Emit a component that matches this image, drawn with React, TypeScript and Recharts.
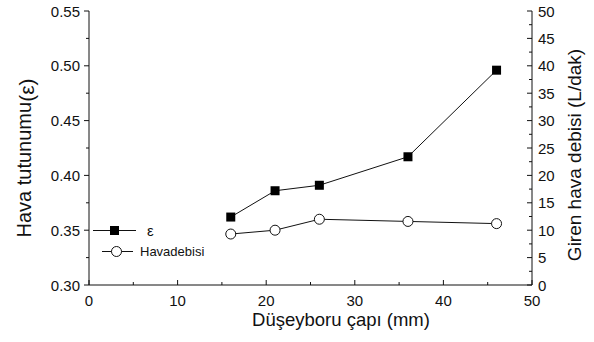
import React from 'react';
import { LineChart, Line, XAxis, YAxis, Legend, Label } from 'recharts';

const diameters = [16, 21, 26, 36, 46];
const holdup = [0.362, 0.386, 0.391, 0.417, 0.496];
const airFlow = [9.3, 10.0, 12.0, 11.6, 11.2];

const xTicks = [0, 5, 10, 15, 20, 25, 30, 35, 40, 45, 50];
const leftTicks = [0.3, 0.325, 0.35, 0.375, 0.4, 0.425, 0.45, 0.475, 0.5, 0.525, 0.55];
const rightTicks = [0, 2.5, 5, 7.5, 10, 12.5, 15, 17.5, 20, 22.5, 25, 27.5, 30, 32.5, 35, 37.5, 40, 42.5, 45, 47.5, 50];

const data = diameters.map((d, i) => ({ d, eps: holdup[i], flow: airFlow[i] }));

const FONT = '"Liberation Sans", Arial, sans-serif';
const INK = '#111';

const isMult = (v: number, step: number) => Math.abs(v / step - Math.round(v / step)) < 1e-6;

const BottomTick = (p: any) => {
  const v = p.payload.value;
  const major = isMult(v, 10);
  return (
    <g>
      <line x1={p.x} x2={p.x} y1={p.y} y2={p.y - (major ? 5 : 3)} stroke={INK} />
      {major && (
        <text x={p.x} y={p.y + 20.5} textAnchor="middle" fontSize={15} fontFamily={FONT} fill={INK}>{v}</text>
      )}
    </g>
  );
};

const TopTick = (p: any) => {
  const major = isMult(p.payload.value, 10);
  return <line x1={p.x} x2={p.x} y1={p.y} y2={p.y + (major ? 5 : 3)} stroke={INK} />;
};

const LeftTick = (p: any) => {
  const v = p.payload.value;
  const major = isMult(v, 0.05);
  return (
    <g>
      <line x1={p.x} x2={p.x - (major ? 5 : 3)} y1={p.y} y2={p.y} stroke={INK} />
      {major && (
        <text x={p.x - 9} y={p.y + 5.5} textAnchor="end" fontSize={15} fontFamily={FONT} fill={INK}>{v.toFixed(2)}</text>
      )}
    </g>
  );
};

const RightTick = (p: any) => {
  const v = p.payload.value;
  const major = isMult(v, 5);
  return (
    <g>
      <line x1={p.x} x2={p.x - (major ? 5 : 3)} y1={p.y} y2={p.y} stroke={INK} />
      {major && (
        <text x={p.x + 6} y={p.y + 5.5} textAnchor="start" fontSize={15} fontFamily={FONT} fill={INK}>{v}</text>
      )}
    </g>
  );
};

const SquareDot = (p: any) => (
  <rect key={`sq-${p.index}`} x={p.cx - 4.5} y={p.cy - 4.5} width={9} height={9} fill="#000" />
);

// legend sits inside the plot, left of the data
const LegendBox = () => (
  <svg width={130} height={50} style={{ display: 'block', overflow: 'visible' }}>
    <path d="M3 16.5 H46" stroke={INK} strokeWidth={1} fill="none" />
    <rect x={20} y={12} width={9} height={9} fill="#000" />
    <text x={57} y={21.5} fontSize={15} fontFamily={FONT} fill={INK}>ε</text>
    <path d="M12 37.5 H43" stroke={INK} strokeWidth={1} fill="none" />
    <circle cx={26.5} cy={37.5} r={5} fill="#fff" stroke={INK} />
    <text x={50} y={42} fontSize={13} fontFamily={FONT} fill={INK}>Havadebisi</text>
  </svg>
);

export default function App() {
  return (
    <div style={{ position: 'absolute', left: 0, top: 0, background: '#fff' }}>
      <LineChart width={594} height={342} data={data} margin={{ top: 11, right: 0, bottom: 0, left: 0 }}>
        <XAxis
          xAxisId="b"
          dataKey="d"
          type="number"
          domain={[0, 50]}
          ticks={xTicks}
          interval={0}
          height={57}
          tickSize={0}
          tickMargin={0}
          tickLine={false}
          axisLine={{ stroke: INK }}
          tick={BottomTick}
        >
          <Label
            content={() => (
              <text x={341} y={326} textAnchor="middle" fontSize={18.5} fontFamily={FONT} fill={INK}>
                Düşeyboru çapı (mm)
              </text>
            )}
          />
        </XAxis>
        <XAxis
          xAxisId="t"
          orientation="top"
          dataKey="d"
          type="number"
          domain={[0, 50]}
          ticks={xTicks}
          interval={0}
          height={0}
          tickSize={0}
          tickMargin={0}
          tickLine={false}
          axisLine={{ stroke: INK }}
          tick={TopTick}
        />
        <YAxis
          yAxisId="l"
          type="number"
          domain={[0.3, 0.55]}
          ticks={leftTicks}
          interval={0}
          width={89}
          tickSize={0}
          tickMargin={0}
          tickLine={false}
          axisLine={{ stroke: INK }}
          tick={LeftTick}
        >
          <Label
            content={() => (
              <text x={31} y={158} transform="rotate(-90 31 158)" textAnchor="middle" fontSize={20} fontFamily={FONT} fill={INK}>
                Hava tutunumu<tspan dy={3} fontSize={21}>(ε)</tspan>
              </text>
            )}
          />
        </YAxis>
        <YAxis
          yAxisId="r"
          orientation="right"
          type="number"
          domain={[0, 50]}
          ticks={rightTicks}
          interval={0}
          width={62}
          tickSize={0}
          tickMargin={0}
          tickLine={false}
          axisLine={{ stroke: INK }}
          tick={RightTick}
        >
          <Label
            content={() => (
              <text x={581} y={155} transform="rotate(-90 581 155)" textAnchor="middle" fontSize={19} fontFamily={FONT} fill={INK}>
                Giren hava debisi (L/dak)
              </text>
            )}
          />
        </YAxis>
        <Legend
          layout="vertical"
          align="center"
          verticalAlign="middle"
          wrapperStyle={{ left: 90, top: 214, width: 130, height: 50 }}
          content={() => <LegendBox />}
        />
        <Line
          xAxisId="b"
          yAxisId="l"
          dataKey="eps"
          type="linear"
          stroke={INK}
          strokeWidth={1}
          dot={SquareDot}
          activeDot={false}
          isAnimationActive={false}
        />
        <Line
          xAxisId="b"
          yAxisId="r"
          dataKey="flow"
          type="linear"
          stroke={INK}
          strokeWidth={1}
          dot={{ r: 5, fill: '#fff', stroke: INK, strokeWidth: 1 }}
          activeDot={false}
          isAnimationActive={false}
        />
      </LineChart>
    </div>
  );
}
